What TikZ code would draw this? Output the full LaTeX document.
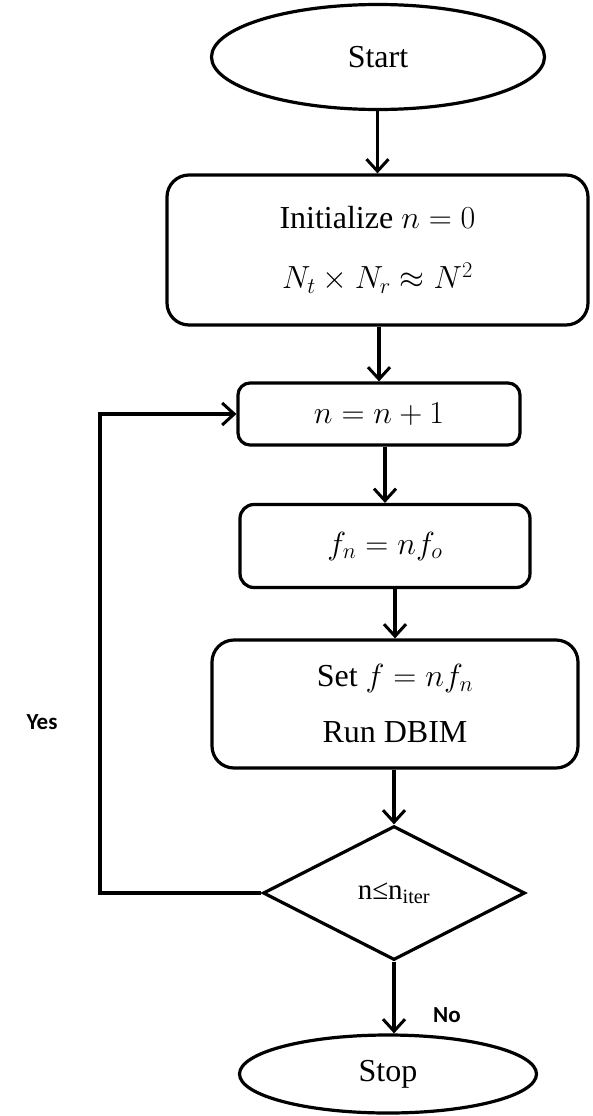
\RequirePackage{fix-cm}
\documentclass[tikz,border=0pt]{standalone}
\usepackage{fontspec}
\setmainfont{Liberation Serif}
\newfontfamily\lblfont{Carlito}
\usetikzlibrary{shapes.geometric,arrows.meta}
\tikzset{
  base/.style={draw=black, line width=3.2pt, inner sep=0pt, font=\fontsize{32}{38}\selectfont, align=center},
  term/.style={base, ellipse},
  procbox/.style={base, rectangle, rounded corners=#1},
  decide/.style={base, diamond, font=\fontsize{29}{34}\selectfont},
  arr/.style={draw=black, line width=3.2pt, -{Straight Barb[length=12pt,width=22pt,line width=3pt]}},
  lbl/.style={font=\lblfont\bfseries\fontsize{23}{27}\selectfont}
}
\begin{document}
\begin{tikzpicture}[x=1pt,y=-1pt]
\useasboundingbox[fill=white] (0,0) rectangle (592,1116);
\node[term, minimum width=333pt, minimum height=105pt] (start) at (378,57) {Start};
\node[procbox=22pt, minimum width=421pt, minimum height=150pt] (init) at (377.5,250)
  {Initialize $n=0$\\[22pt] $N_t\times N_r\approx N^2$};
\node[procbox=12pt, minimum width=282pt, minimum height=62pt] (inc) at (379,414) {$n=n+1$};
\node[procbox=14pt, minimum width=290pt, minimum height=83pt] (fn) at (385,546) {$f_n=nf_o$};
\node[procbox=22pt, minimum width=366pt, minimum height=128pt] (run) at (395,704)
  {Set $f=nf_n$\\[18pt] Run DBIM};
\node[decide, minimum width=262pt, minimum height=134pt] (dia) at (394,893) {n≤n\textsubscript{iter}};
\node[term, minimum width=297pt, minimum height=78pt] (stop) at (388,1074) {Stop};
\coordinate (lp) at (100,893);
\node[lbl] (yes) at (42,722) {Yes};
\node[lbl] (no) at (447,1015) {No};
\draw[arr] (start.south -| init.north) -- (init.north);
\draw[arr] (init.south -| inc.north) -- (inc.north);
\draw[arr] (inc.south -| fn.north) -- (fn.north);
\draw[arr] (fn.south -| run.north) -- (run.north);
\draw[arr] (run.south -| dia.north) -- (dia.north);
\draw[arr] (dia.south) -- (dia.south |- stop.north);
\draw[arr] (dia.west) -- (lp) |- (inc.west);
\end{tikzpicture}
\end{document}
